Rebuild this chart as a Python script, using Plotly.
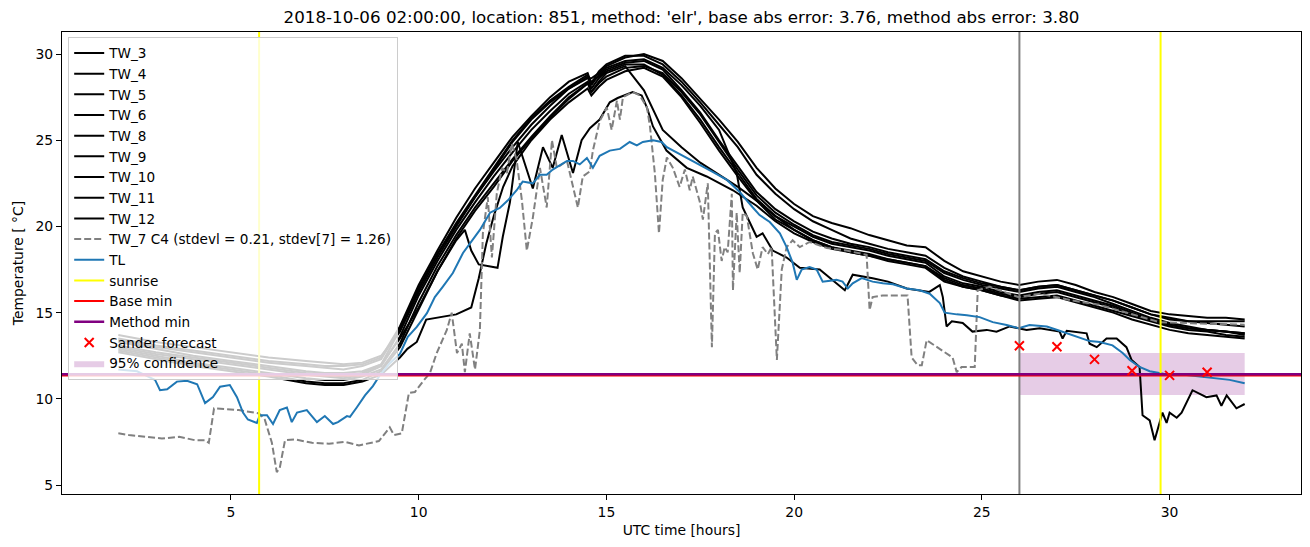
import plotly.graph_objects as go

# ---------------- data ----------------
TITLE = "2018-10-06 02:00:00, location: 851, method: 'elr', base abs error: 3.76, method abs error: 3.80"

X_RANGE = [0.5, 33.5]
Y_RANGE = [4.48, 31.28]
X_TICKS = [5, 10, 15, 20, 25, 30]
Y_TICKS = [5, 10, 15, 20, 25, 30]

# shared time grid for the regular TW sensors
T_TW = [2, 3, 4, 5, 6, 7, 7.5, 8, 8.5, 9, 9.5,
        10, 10.5, 11, 11.5, 12, 12.5, 13, 13.5, 14, 14.5,
        14.6, 14.8,
        15, 15.5, 16, 16.5, 17, 17.5, 18, 18.5, 19, 19.5,
        20, 20.5, 21, 21.5, 22, 22.5, 23, 23.5, 24, 24.5,
        25, 25.5, 26, 26.5, 27, 27.5, 28, 28.5, 29, 29.5,
        30, 30.5, 31, 31.5, 32]

TW_3 = [13.7, 13.3, 13.0, 12.7, 12.4, 12.2, 12.1, 12.0, 12.1, 12.5, 13.9,
        16.2, 18.2, 20.0, 21.7, 23.3, 24.9, 26.2, 27.2, 28.0, 28.6,
        28.6, 28.9,
        29.3, 29.8, 30.0, 29.6, 28.6, 27.4, 26.2, 24.9, 23.4, 22.2,
        21.3, 20.6, 20.2, 19.9, 19.5, 19.2, 18.9, 18.8, 18.0, 17.4,
        17.1, 16.8, 16.6, 16.8, 16.9, 16.6, 16.2, 15.9, 15.5, 15.1,
        14.9, 14.8, 14.7, 14.7, 14.6]
TW_4 = [13.5, 13.1, 12.8, 12.5, 12.2, 12.0, 11.9, 11.9, 12.0, 12.4, 14.2,
        16.6, 18.6, 20.5, 22.2, 23.7, 25.2, 26.4, 27.5, 28.4, 28.9,
        28.3, 29.0,
        29.4, 29.9, 29.9, 29.4, 28.4, 27.2, 25.9, 24.6, 23.0, 21.9,
        21.0, 20.3, 19.8, 19.3, 19.0, 18.7, 18.5, 18.3, 17.6, 17.1,
        16.8, 16.5, 16.3, 16.5, 16.6, 16.3, 16.0, 15.7, 15.3, 14.9,
        14.7, 14.5, 14.5, 14.5, 14.5]
TW_5 = [13.3, 12.9, 12.5, 12.2, 11.9, 11.6, 11.5, 11.5, 11.6, 12.0, 14.0,
        16.4, 18.4, 20.1, 21.7, 23.2, 24.6, 25.9, 27.0, 28.0, 28.7,
        28.0, 28.6,
        29.0, 29.4, 29.4, 28.8, 27.6, 26.2, 24.6, 23.1, 21.6, 20.6,
        20.0, 19.4, 19.0, 18.8, 18.6, 18.3, 18.1, 17.9, 17.1, 16.7,
        16.5, 16.2, 16.0, 16.2, 16.3, 16.0, 15.7, 15.4, 15.0, 14.6,
        14.3, 14.1, 14.0, 13.9, 13.8]
TW_6 = [13.0, 12.6, 12.3, 12.0, 11.7, 11.4, 11.3, 11.2, 11.4, 11.9, 13.6,
        16.0, 18.0, 19.8, 21.4, 22.9, 24.3, 25.6, 26.7, 27.7, 28.4,
        27.8, 28.4,
        28.9, 29.3, 27.9, 25.6, 24.6, 23.7, 23.0, 22.3, 21.5, 20.6,
        19.8, 19.2, 18.8, 18.5, 18.3, 18.0, 17.8, 17.6, 16.8, 16.5,
        16.3, 16.0, 15.8, 15.9, 16.0, 15.7, 15.4, 15.1, 14.8, 14.5,
        14.2, 14.0, 13.9, 13.7, 13.6]
TW_9 = [12.9, 12.5, 12.1, 11.8, 11.5, 11.2, 11.1, 11.1, 11.3, 11.7, 13.2,
        15.6, 17.7, 19.5, 21.1, 22.5, 23.9, 25.2, 26.4, 27.5, 28.3,
        27.8, 28.3,
        28.7, 29.2, 29.3, 28.9, 27.8, 26.5, 24.9, 23.3, 21.8, 20.8,
        20.1, 19.5, 19.1, 18.9, 18.7, 18.4, 18.2, 18.0, 17.3, 16.9,
        16.6, 16.4, 16.2, 16.4, 16.5, 16.2, 15.9, 15.5, 15.1, 14.7,
        14.4, 14.2, 14.0, 13.9, 13.7]
TW_10 = [13.1, 12.7, 12.4, 12.1, 11.8, 11.5, 11.4, 11.3, 11.5, 12.0, 13.5,
         15.3, 17.4, 19.3, 20.9, 22.3, 23.8, 25.1, 26.3, 27.4, 28.3,
         28.4, 28.7,
         29.1, 29.5, 29.6, 29.1, 27.9, 26.6, 25.0, 23.5, 22.0, 21.0,
         20.3, 19.7, 19.3, 19.0, 18.8, 18.5, 18.3, 18.1, 17.4, 17.0,
         16.7, 16.5, 16.3, 16.5, 16.6, 16.3, 16.0, 15.7, 15.3, 14.9,
         14.6, 14.5, 14.4, 14.3, 14.2]

# sensors with their own time stamps
TW_8_T = [2, 3, 4, 5, 6, 7, 7.5, 8, 8.5, 9, 9.5,
          9.7, 9.95, 10.2, 10.5, 11.0, 11.4, 11.6, 11.8, 12.0, 12.25,
          12.5, 13, 13.5, 14, 14.5, 14.6, 14.8,
          15, 15.5, 16, 16.5, 17, 17.5, 18, 18.5, 19, 19.5,
          20, 20.5, 21, 21.5, 22, 22.5, 23, 23.5, 24, 24.5,
          25, 25.5, 26, 26.5, 27, 27.5, 28, 28.5, 29, 29.5,
          30, 30.5, 31, 31.5, 32]
TW_8_V = [12.7, 12.3, 11.9, 11.6, 11.3, 10.9, 10.8, 10.8, 11.0, 11.4, 12.4,
          12.9, 13.3, 14.6, 14.7, 14.9, 15.3, 17.0, 19.0, 20.6, 22.3,
          23.5, 25.0, 26.2, 27.2, 28.0, 27.6, 28.1,
          28.5, 29.0, 29.2, 28.7, 27.5, 26.0, 24.4, 22.9, 21.5, 20.4,
          19.8, 19.2, 18.8, 18.6, 18.4, 18.1, 17.9, 17.7, 16.9, 16.5,
          16.3, 16.0, 15.7, 15.8, 15.9, 15.6, 15.3, 15.0, 14.6, 14.3,
          14.0, 13.8, 13.7, 13.6, 13.5]

TW_11_T = [2, 3, 4, 5, 6, 7, 7.5, 8, 8.5, 9, 9.5, 10, 10.5, 11,
           11.23, 11.4, 11.6, 12.1, 12.24, 12.43, 12.64,
           13.04, 13.31, 13.57, 13.81, 14.11, 14.34, 14.56, 14.82, 15.09, 15.3,
           15.7, 15.94, 16.08, 16.24, 16.6, 17.14, 17.67, 18.37,
           19, 19.5, 20, 20.5, 21, 21.5, 22, 22.5, 23, 23.5, 24, 24.5,
           25, 25.5, 26, 26.5, 27, 27.5, 28, 28.5, 29, 29.5,
           30, 30.5, 31, 31.5, 32]
TW_11_V = [12.8, 12.4, 12.0, 11.7, 11.4, 11.0, 10.9, 10.9, 11.1, 11.6, 13.0, 15.2, 17.4, 19.2,
           19.8, 18.6, 17.8, 17.6, 19.4, 21.4, 24.9,
           22.2, 24.6, 23.4, 25.3, 23.1, 25.0, 25.7, 26.2, 27.2, 27.45,
           27.8, 27.6, 26.9, 25.8, 24.4, 23.4, 22.9, 22.1,
           21.2, 20.3, 19.6, 19.1, 18.7, 18.5, 18.3, 18.1, 17.9, 17.7, 17.0, 16.6,
           16.4, 16.1, 15.9, 16.1, 16.2, 15.9, 15.6, 15.3, 14.9, 14.6,
           14.3, 14.1, 14.0, 13.9, 13.8]

TW_12_T = [2, 3, 4, 5, 6, 7, 7.5, 8, 8.5, 9, 9.5,
           10, 10.5, 11, 11.5, 12, 12.5, 13, 13.5, 14, 14.5,
           14.6, 14.8, 15, 15.5, 16, 16.5, 17, 17.5, 18,
           18.47, 18.63, 19.0, 19.16, 19.43, 19.8, 20.15, 20.68, 21.03, 21.35,
           21.56, 22.09, 22.5, 23.0, 23.6, 23.88, 23.96, 24.06, 24.2, 24.49,
           24.75, 25.13, 25.39, 25.74, 26.19, 26.54, 27.07, 27.15, 27.26, 27.79,
           27.87, 28.06, 28.32, 28.59, 28.85, 28.99, 29.2, 29.28, 29.47, 29.6,
           29.81, 29.92, 30.0, 30.19, 30.32, 30.61, 30.98, 31.25, 31.38, 31.52,
           31.78, 31.92, 32.0]
TW_12_V = [13.4, 13.0, 12.7, 12.4, 12.1, 11.9, 11.8, 11.7, 11.9, 12.3, 14.1,
           16.4, 18.4, 20.2, 21.8, 23.4, 25.0, 26.3, 27.3, 28.1, 28.8,
           28.2, 28.8, 29.2, 29.6, 29.7, 29.2, 28.2, 27.0, 25.6,
           23.1, 21.1, 19.4, 19.6, 18.6, 18.2, 17.6, 17.5, 16.9, 16.3,
           17.2, 17.0, 16.8, 16.4, 16.2, 16.6, 15.9, 14.2, 14.5, 14.4,
           13.9, 14.0, 13.9, 14.2, 14.0, 14.1, 13.9, 13.5, 13.95, 13.8,
           13.2, 13.0, 13.5, 13.5, 13.0, 12.25, 11.85, 9.05, 8.75, 7.6,
           9.2, 8.6, 9.2, 8.9, 9.2, 10.5, 10.1, 10.2, 9.6, 10.2,
           9.45, 9.6, 9.7]

TW_7_POINTS = [(2.0, 8.0), (2.28, 7.9), (3.16, 7.7), (3.62, 7.8), (4.04, 7.6), (4.31, 7.6),
               (4.41, 7.45), (4.55, 9.45), (5.21, 9.35), (5.75, 9.15), (5.9, 8.8), (6.09, 7.45),
               (6.22, 5.75), (6.3, 6.0), (6.44, 7.6), (6.7, 7.65), (7.16, 7.45), (7.61, 7.4),
               (8.04, 7.5), (8.41, 7.3), (8.94, 7.55), (9.23, 8.35), (9.34, 7.9), (9.55, 8.0),
               (9.74, 10.35), (9.9, 10.4), (10.11, 11.0), (10.3, 11.5), (10.48, 12.65), (10.75, 14.0),
               (10.88, 15.0), (11.02, 12.65), (11.15, 13.2), (11.23, 11.55), (11.36, 13.8), (11.5, 11.7),
               (11.63, 14.0), (11.71, 19.6), (11.84, 21.7), (11.95, 18.2), (12.08, 21.9), (12.22, 23.4),
               (12.35, 23.1), (12.48, 24.8), (12.61, 23.85), (12.75, 21.5), (12.88, 18.6), (13.04, 20.5),
               (13.23, 23.4), (13.41, 21.1), (13.55, 25.0), (13.68, 23.4), (13.95, 23.8), (14.11, 22.3),
               (14.24, 21.1), (14.37, 22.9), (14.56, 23.2), (14.64, 24.4), (14.82, 26.1), (15.01, 26.9),
               (15.14, 25.6), (15.28, 27.3), (15.36, 26.2), (15.44, 27.5), (15.7, 27.8), (15.89, 27.6),
               (16.08, 26.9), (16.16, 25.8), (16.29, 23.1), (16.4, 19.6), (16.5, 22.7), (16.61, 24.0),
               (16.77, 23.4), (16.95, 22.3), (17.09, 23.3), (17.22, 22.1), (17.3, 22.9), (17.49, 21.4),
               (17.57, 20.4), (17.7, 22.5), (17.81, 13.0), (17.89, 19.6), (17.97, 19.8), (18.07, 18.0),
               (18.15, 18.8), (18.23, 18.5), (18.34, 21.9), (18.37, 16.3), (18.47, 20.8), (18.55, 17.3),
               (18.63, 20.8), (18.74, 20.6), (18.9, 18.45), (19.03, 17.5), (19.16, 18.8), (19.3, 18.4),
               (19.4, 18.8), (19.54, 12.25), (19.67, 17.5), (19.8, 18.8), (19.96, 19.2), (20.15, 18.8),
               (20.41, 19.1), (20.87, 18.75), (21.4, 18.6), (21.93, 18.35), (22.01, 15.15), (22.09, 15.9),
               (22.36, 16.0), (23.02, 16.0), (23.13, 12.4), (23.29, 11.95), (23.4, 11.95), (23.53, 13.4),
               (23.8, 13.0), (24.22, 12.4), (24.33, 11.55), (24.46, 11.85), (24.81, 11.85), (24.89, 16.3),
               (25.21, 16.5), (25.98, 15.9), (26.54, 16.1), (27.42, 15.7), (28.14, 15.45), (29.73, 14.45),
               (31.0, 14.35), (32.0, 14.3)]

TL_POINTS = [(2.0, 11.7), (2.5, 11.6), (2.98, 11.1), (3.11, 10.5), (3.3, 10.55), (3.56, 11.0),
             (3.83, 11.05), (4.1, 10.85), (4.31, 9.75), (4.52, 10.1), (4.71, 10.7), (4.97, 10.8),
             (5.16, 10.1), (5.32, 9.2), (5.45, 8.8), (5.69, 8.6), (5.77, 9.05), (5.96, 9.05),
             (6.12, 8.54), (6.3, 9.35), (6.49, 9.5), (6.62, 8.65), (6.76, 9.2), (7.02, 9.35),
             (7.29, 8.65), (7.5, 9.0), (7.72, 8.54), (7.85, 8.65), (8.09, 9.0), (8.17, 8.95),
             (8.35, 9.5), (8.57, 10.2), (8.78, 10.74), (8.97, 11.38), (9.23, 12.07), (9.5, 12.6),
             (9.71, 13.6), (9.95, 14.17), (10.22, 14.97), (10.43, 15.9), (10.64, 16.5), (10.91, 17.3),
             (11.18, 18.46), (11.42, 19.2), (11.63, 19.8), (11.9, 20.8), (12.16, 21.07), (12.37, 21.5),
             (12.61, 22.1), (12.77, 22.6), (13.04, 22.5), (13.23, 23.0), (13.41, 23.0), (13.57, 23.3),
             (13.76, 23.56), (13.95, 23.8), (14.11, 23.8), (14.29, 23.6), (14.48, 23.97), (14.64, 23.4),
             (14.82, 24.1), (15.09, 24.4), (15.36, 24.5), (15.62, 24.9), (15.81, 24.7), (15.97, 24.9),
             (16.24, 25.0), (16.47, 24.9), (16.61, 24.6), (16.87, 24.3), (17.14, 23.97), (17.49, 23.56),
             (17.83, 23.16), (18.21, 22.7), (18.55, 22.0), (18.9, 21.1), (19.08, 20.66), (19.35, 20.26),
             (19.62, 19.6), (19.8, 18.8), (19.96, 17.9), (20.07, 16.9), (20.2, 17.5), (20.41, 17.64),
             (20.6, 17.5), (20.76, 16.8), (20.95, 16.85), (21.13, 16.9), (21.29, 16.8), (21.43, 16.4),
             (21.56, 16.7), (21.8, 17.0), (22.09, 16.8), (22.36, 16.7), (22.63, 16.65), (23.0, 16.4),
             (23.34, 16.3), (23.61, 16.1), (23.88, 15.56), (24.01, 15.0), (24.33, 14.9), (24.6, 14.85),
             (24.94, 14.74), (25.29, 14.45), (25.66, 14.28), (25.98, 14.1), (26.27, 14.28), (26.73, 14.2),
             (27.07, 13.95), (27.52, 13.6), (27.87, 13.35), (28.14, 13.3), (28.48, 13.1), (28.75, 12.66),
             (28.94, 12.25), (29.2, 11.85), (29.47, 11.6), (29.73, 11.5), (30.0, 11.38), (30.45, 11.38),
             (30.8, 11.3), (31.14, 11.2), (31.6, 11.1), (32.0, 10.9)]

SUNRISE_T = [5.75, 29.76]
FORECAST_T = 26.0
BASE_MIN = 11.35
METHOD_MIN = 11.42
SANDER_T = [26, 27, 28, 29, 30, 31]
SANDER_V = [13.08, 13.02, 12.29, 11.63, 11.36, 11.54]
CONF_T = [26, 32]
CONF_LO = 10.22
CONF_HI = 12.66

FONT = "DejaVu Sans"

# ---------------- figure ----------------
fig = go.Figure()

# 95% confidence band (drawn underneath)
fig.add_trace(go.Scatter(
    x=[CONF_T[0], CONF_T[1], CONF_T[1], CONF_T[0], CONF_T[0]],
    y=[CONF_LO, CONF_LO, CONF_HI, CONF_HI, CONF_LO],
    mode="lines", fill="toself", fillcolor="rgba(128,0,128,0.2)",
    line=dict(width=0, color="rgba(128,0,128,0.2)"),
    name="95% confidence", legendrank=16))

order = ["TW_3", "TW_4", "TW_5", "TW_6", "TW_8", "TW_9", "TW_10", "TW_11", "TW_12"]
series = {"TW_3": (T_TW, TW_3), "TW_4": (T_TW, TW_4), "TW_5": (T_TW, TW_5),
          "TW_6": (T_TW, TW_6), "TW_9": (T_TW, TW_9), "TW_10": (T_TW, TW_10),
          "TW_8": (TW_8_T, TW_8_V), "TW_11": (TW_11_T, TW_11_V), "TW_12": (TW_12_T, TW_12_V)}

for rank, name in enumerate(order, start=1):
    tx, vy = series[name]
    fig.add_trace(go.Scatter(x=tx, y=vy, mode="lines", name=name,
                             line=dict(color="black", width=2), legendrank=rank))

fig.add_trace(go.Scatter(
    x=[p[0] for p in TW_7_POINTS], y=[p[1] for p in TW_7_POINTS], mode="lines",
    name="TW_7 C4 (stdevl = 0.21, stdev[7] = 1.26)",
    line=dict(color="#808080", width=2, dash="7px,3px"), legendrank=10))

fig.add_trace(go.Scatter(
    x=[p[0] for p in TL_POINTS], y=[p[1] for p in TL_POINTS], mode="lines",
    name="TL", line=dict(color="#1f77b4", width=2), legendrank=11))

# forecast time marker
fig.add_trace(go.Scatter(x=[FORECAST_T, FORECAST_T], y=Y_RANGE, mode="lines",
                         line=dict(color="#808080", width=2), showlegend=False))

sx, sy = [], []
for s in SUNRISE_T:
    sx += [s, s, None]
    sy += [Y_RANGE[0], Y_RANGE[1], None]
fig.add_trace(go.Scatter(x=sx, y=sy, mode="lines", name="sunrise",
                         line=dict(color="yellow", width=2), legendrank=12))

fig.add_trace(go.Scatter(x=X_RANGE, y=[BASE_MIN, BASE_MIN], mode="lines", name="Base min",
                         line=dict(color="red", width=2), legendrank=13))
fig.add_trace(go.Scatter(x=X_RANGE, y=[METHOD_MIN, METHOD_MIN], mode="lines", name="Method min",
                         line=dict(color="purple", width=2.5), legendrank=14))

fig.add_trace(go.Scatter(x=SANDER_T, y=SANDER_V, mode="markers", name="Sander forecast",
                         marker=dict(symbol="x-thin", size=9, color="red",
                                     line=dict(color="red", width=2)),
                         legendrank=15))

axis_common = dict(showline=True, mirror=True, linecolor="black", linewidth=1.1,
                   ticks="outside", ticklen=5, tickwidth=1.1, tickcolor="black",
                   showgrid=False, zeroline=False,
                   tickfont=dict(family=FONT, size=13.9, color="black"))

fig.update_layout(
    width=1310, height=547,
    margin=dict(l=62, r=9, t=32, b=53),
    paper_bgcolor="white", plot_bgcolor="white",
    font=dict(family=FONT, size=13.9, color="black"),
    title=dict(text=TITLE, x=0.5, xref="paper", y=1 - 17 / 547, yref="container",
               yanchor="middle", xanchor="center",
               font=dict(family=FONT, size=16.7, color="black")),
    xaxis=dict(range=X_RANGE, tickvals=X_TICKS, ticktext=[str(v) for v in X_TICKS],
               title=dict(text="UTC time [hours]", standoff=6,
                          font=dict(family=FONT, size=13.9, color="black")),
               **axis_common),
    yaxis=dict(range=Y_RANGE, tickvals=Y_TICKS, ticktext=[str(v) for v in Y_TICKS],
               title=dict(text="Temperature [ °C]", standoff=8,
                          font=dict(family=FONT, size=13.9, color="black")),
               **axis_common),
    legend=dict(x=0.005, y=0.99, xanchor="left", yanchor="top",
                bgcolor="rgba(255,255,255,0.8)", bordercolor="#cccccc", borderwidth=1,
                font=dict(family=FONT, size=13.6, color="black"),
                tracegroupgap=0),
    hovermode=False,
    showlegend=True,
)

fig.write_html("out.html")
